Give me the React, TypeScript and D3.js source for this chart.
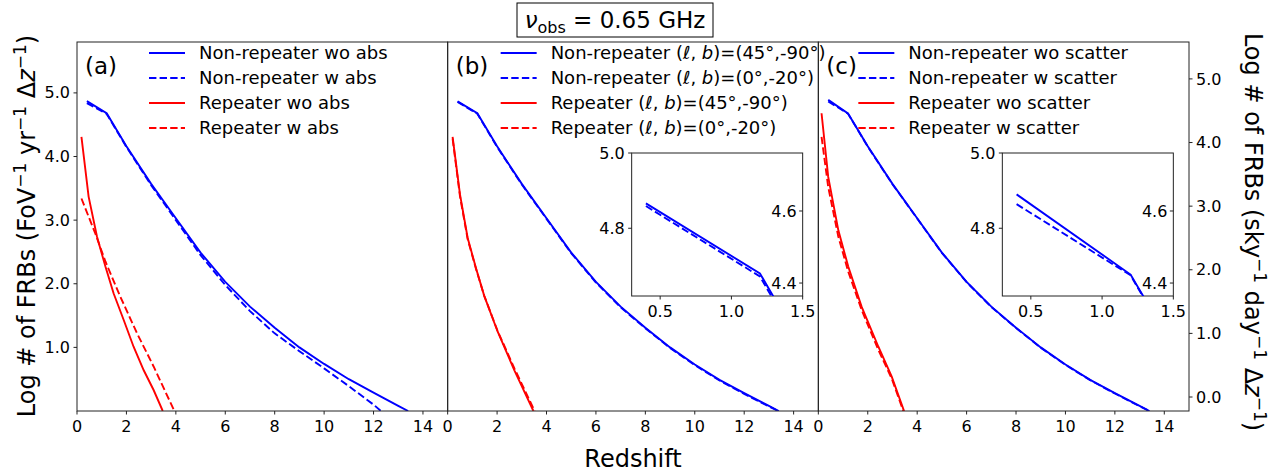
import * as d3 from 'd3';

type Pt = [number, number];

// redshift, log N (FoV^-1 yr^-1 dz^-1)
// (a) absorption
const aNonRepWo: Pt[] = [[0.4, 4.87], [1.2, 4.68], [2, 4.16], [3, 3.57], [4, 3.03], [5, 2.49], [6, 2.03], [7, 1.64], [8, 1.31], [9, 1.0], [10, 0.74], [11, 0.5], [12, 0.29], [13, 0.08], [13.4, 0]];
const aNonRepW: Pt[] = [[0.4, 4.84], [1.2, 4.67], [2, 4.15], [3, 3.55], [4, 3.0], [5, 2.45], [6, 1.98], [7, 1.57], [8, 1.22], [9, 0.94], [10, 0.67], [11, 0.39], [12, 0.1], [12.3, 0]];
const aRepWo: Pt[] = [[0.18, 4.31], [0.47, 3.37], [0.81, 2.74], [1.15, 2.27], [1.48, 1.85], [1.89, 1.43], [2.29, 1.01], [2.7, 0.64], [3.1, 0.33], [3.47, 0]];
const aRepW: Pt[] = [[0.18, 3.34], [0.74, 2.79], [1.15, 2.35], [1.75, 1.8], [2.43, 1.22], [3.1, 0.7], [3.94, 0]];

// (b) sky direction
const bNonRep45: Pt[] = [[0.4, 4.866], [1.2, 4.68], [2, 4.16], [3, 3.57], [4, 3.03], [5, 2.49], [6, 2.03], [7, 1.64], [8, 1.31], [9, 1.0], [10, 0.73], [11, 0.49], [12, 0.28], [13, 0.08], [13.4, 0]];
const bNonRep0: Pt[] = [[0.4, 4.859], [1.2, 4.672], [2, 4.15], [3, 3.56], [4, 3.02], [5, 2.48], [6, 2.02], [7, 1.63], [8, 1.3], [9, 0.99], [10, 0.72], [11, 0.48], [12, 0.27], [13, 0.07], [13.38, 0]];
const bRep45: Pt[] = [[0.2, 4.31], [0.5, 3.4], [0.81, 2.72], [1.15, 2.24], [1.48, 1.81], [2.02, 1.25], [2.7, 0.64], [3.47, 0]];
const bRep0: Pt[] = [[0.2, 4.28], [0.5, 3.37], [0.81, 2.7], [1.15, 2.23], [1.48, 1.81], [2.02, 1.26], [2.7, 0.67], [3.52, 0]];

// (c) scattering
const cNonRepWo: Pt[] = [[0.4, 4.89], [1.2, 4.677], [2, 4.16], [3, 3.57], [4, 3.03], [5, 2.49], [6, 2.03], [7, 1.64], [8, 1.31], [9, 1.0], [10, 0.73], [11, 0.49], [12, 0.28], [13, 0.08], [13.4, 0]];
const cNonRepW: Pt[] = [[0.4, 4.864], [1.2, 4.675], [2, 4.155], [3, 3.565], [4, 3.025], [5, 2.485], [6, 2.025], [7, 1.635], [8, 1.305], [9, 0.995], [10, 0.725], [11, 0.485], [12, 0.275], [13, 0.075], [13.4, 0]];
const cRepWo: Pt[] = [[0.13, 4.68], [0.4, 3.68], [0.81, 2.84], [1.21, 2.27], [1.75, 1.64], [2.43, 1.01], [2.97, 0.54], [3.47, 0]];
const cRepW: Pt[] = [[0.13, 4.31], [0.4, 3.52], [0.81, 2.74], [1.21, 2.19], [1.75, 1.59], [2.43, 0.96], [2.97, 0.51], [3.44, 0]];

const legendA = ['Non-repeater wo abs', 'Non-repeater w abs', 'Repeater wo abs', 'Repeater w abs'];
const legendB = ['Non-repeater (ℓ, b)=(45°,-90°)', 'Non-repeater (ℓ, b)=(0°,-20°)', 'Repeater (ℓ, b)=(45°,-90°)', 'Repeater (ℓ, b)=(0°,-20°)'];
const legendC = ['Non-repeater wo scatter', 'Non-repeater w scatter', 'Repeater wo scatter', 'Repeater w scatter'];
const panelTags = ['(a)', '(b)', '(c)'];

const xTicks = [0, 2, 4, 6, 8, 10, 12, 14];
const leftTicks = [1, 2, 3, 4, 5];
const rightTicks = [0, 1, 2, 3, 4, 5];
const insetXTicks = [0.5, 1.0, 1.5];
const insetLeftTicks = [4.8, 5.0];
const insetRightTicks = [4.4, 4.6];

const BLUE = '#0000ff';
const RED = '#ff0000';
const DASH = '7.4,3.2';
const LW = 1.9;
const FONT = 'DejaVu Sans, sans-serif';
const SPINE = '#222';

const W = 1284;
const H = 475;
const top = 42;
const bottom = 411;
const left = 77;
const right = 1189;
const pw = (right - left) / 3;

const y = d3.scaleLinear().domain([0, 5.8]).range([bottom, top]);
const ySky = d3.scaleLinear().domain([-0.22, 5.58]).range([bottom, top]);

const panels = [
  { series: [aNonRepWo, aNonRepW, aRepWo, aRepW], legend: legendA, legX: 72, inset: false },
  { series: [bNonRep45, bNonRep0, bRep45, bRep0], legend: legendB, legX: 53, inset: true },
  { series: [cNonRepWo, cNonRepW, cRepWo, cRepW], legend: legendC, legX: 40, inset: true },
];
const styles = [
  { color: BLUE, dash: undefined },
  { color: BLUE, dash: DASH },
  { color: RED, dash: undefined },
  { color: RED, dash: DASH },
];

function label(s: string) {
  if (!s.includes('(ℓ, b)')) return s;
  const [pre, post] = s.split('(ℓ, b)');
  return (
    <>
      {pre}(<tspan fontStyle="italic">ℓ</tspan>, <tspan fontStyle="italic">b</tspan>){post}
    </>
  );
}

function Inset({ x0, series, id }: { x0: number; series: Pt[][]; id: string }) {
  const ix = d3.scaleLinear().domain([0.3, 1.5]).range([x0, x0 + 171]);
  const iy = d3.scaleLinear().domain([4.62, 5.0]).range([296, 153]);
  const iyR = d3.scaleLinear().domain([4.364, 4.761]).range([296, 153]);
  const line = d3.line<Pt>().x((d) => ix(d[0])).y((d) => iy(d[1]));
  return (
    <g>
      <clipPath id={id}>
        <rect x={x0} y={153} width={171} height={143} />
      </clipPath>
      <rect x={x0} y={153} width={171} height={143} fill="#fff" stroke={SPINE} strokeWidth={1} />
      <g clipPath={`url(#${id})`}>
        {series.map((s, i) => (
          <path key={i} d={line(s) || ''} fill="none" stroke={styles[i].color} strokeWidth={LW} strokeDasharray={styles[i].dash} />
        ))}
      </g>
      {insetXTicks.map((t) => (
        <g key={t}>
          <line x1={ix(t)} x2={ix(t)} y1={296} y2={299.5} stroke={SPINE} />
          <text x={ix(t)} y={317} textAnchor="middle" fontSize={16}>{t.toFixed(1)}</text>
        </g>
      ))}
      {insetLeftTicks.map((t) => (
        <g key={t}>
          <line x1={x0 - 3.5} x2={x0} y1={iy(t)} y2={iy(t)} stroke={SPINE} />
          <text x={x0 - 7} y={iy(t)} dy="0.35em" textAnchor="end" fontSize={16}>{t.toFixed(1)}</text>
        </g>
      ))}
      {insetRightTicks.map((t) => (
        <g key={t}>
          <line x1={x0 + 171 - 3.5} x2={x0 + 171} y1={iyR(t)} y2={iyR(t)} stroke={SPINE} />
          <text x={x0 + 171 - 6} y={iyR(t)} dy="0.35em" textAnchor="end" fontSize={16}>{t.toFixed(1)}</text>
        </g>
      ))}
    </g>
  );
}

export default function App() {
  return (
    <svg width={W} height={H} style={{ position: 'absolute', left: 0, top: 0, background: '#fff' }} fontFamily={FONT} fill="#000">
      {panels.map((p, pi) => {
        const x0 = left + pi * pw;
        const x = d3.scaleLinear().domain([0, 15]).range([x0, x0 + pw]);
        const line = d3.line<Pt>().x((d) => x(d[0])).y((d) => y(d[1]));
        const cid = `clip-${pi}`;
        return (
          <g key={pi}>
            <clipPath id={cid}>
              <rect x={x0} y={top} width={pw} height={bottom - top} />
            </clipPath>
            <g clipPath={`url(#${cid})`}>
              {p.series.map((s, i) => (
                <path key={i} d={line(s) || ''} fill="none" stroke={styles[i].color} strokeWidth={LW} strokeDasharray={styles[i].dash} />
              ))}
            </g>
            <rect x={x0} y={top} width={pw} height={bottom - top} fill="none" stroke={SPINE} strokeWidth={1} />
            {xTicks.map((t) => (
              <g key={t}>
                <line x1={x(t)} x2={x(t)} y1={bottom} y2={bottom + 3.5} stroke={SPINE} />
                <text x={x(t)} y={432} textAnchor="middle" fontSize={16}>{t}</text>
              </g>
            ))}
            <text x={x0 + 8} y={74} fontSize={23}>{panelTags[pi]}</text>
            {p.legend.map((l, i) => {
              const ly = 53 + i * 25;
              const lx = x0 + p.legX;
              return (
                <g key={i}>
                  <line x1={lx} x2={lx + 36} y1={ly} y2={ly} stroke={styles[i].color} strokeWidth={LW} strokeDasharray={styles[i].dash} />
                  <text x={lx + 50} y={ly} dy="0.35em" fontSize={18}>{label(l)}</text>
                </g>
              );
            })}
            {p.inset && <Inset x0={x0 + 184} series={p.series.slice(0, 2)} id={`inset-${pi}`} />}
          </g>
        );
      })}
      {leftTicks.map((t) => (
        <g key={t}>
          <line x1={left - 3.5} x2={left} y1={y(t)} y2={y(t)} stroke={SPINE} />
          <text x={left - 7} y={y(t)} dy="0.35em" textAnchor="end" fontSize={16}>{t.toFixed(1)}</text>
        </g>
      ))}
      {rightTicks.map((t) => (
        <g key={t}>
          <line x1={right} x2={right + 3.5} y1={ySky(t)} y2={ySky(t)} stroke={SPINE} />
          <text x={right + 7} y={ySky(t)} dy="0.35em" textAnchor="start" fontSize={16}>{t.toFixed(1)}</text>
        </g>
      ))}
      <text transform="translate(27,226) rotate(-90)" textAnchor="middle" dy="0.35em" fontSize={24}>
        Log # of FRBs (FoV<tspan dy={-9} fontSize={17}>−1</tspan>
        <tspan dy={9}> yr</tspan><tspan dy={-9} fontSize={17}>−1</tspan>
        <tspan dy={9}> Δ</tspan><tspan fontStyle="italic">z</tspan><tspan dy={-9} fontSize={17}>−1</tspan>
        <tspan dy={9}>)</tspan>
      </text>
      <text transform="translate(1253,232) rotate(90)" textAnchor="middle" dy="0.35em" fontSize={24}>
        Log # of FRBs (sky<tspan dy={-9} fontSize={17}>−1</tspan>
        <tspan dy={9}> day</tspan><tspan dy={-9} fontSize={17}>−1</tspan>
        <tspan dy={9}> Δ</tspan><tspan fontStyle="italic">z</tspan><tspan dy={-9} fontSize={17}>−1</tspan>
        <tspan dy={9}>)</tspan>
      </text>
      <text x={(left + right) / 2} y={467} textAnchor="middle" fontSize={24}>Redshift</text>
      <rect x={517} y={3} width={196} height={34} fill="#fff" stroke="#000" strokeWidth={1} />
      <text x={615} y={28} textAnchor="middle" fontSize={23}>
        <tspan fontStyle="italic">ν</tspan><tspan dy={5} fontSize={16}>obs</tspan>
        <tspan dy={-5}> = 0.65 GHz</tspan>
      </text>
    </svg>
  );
}
